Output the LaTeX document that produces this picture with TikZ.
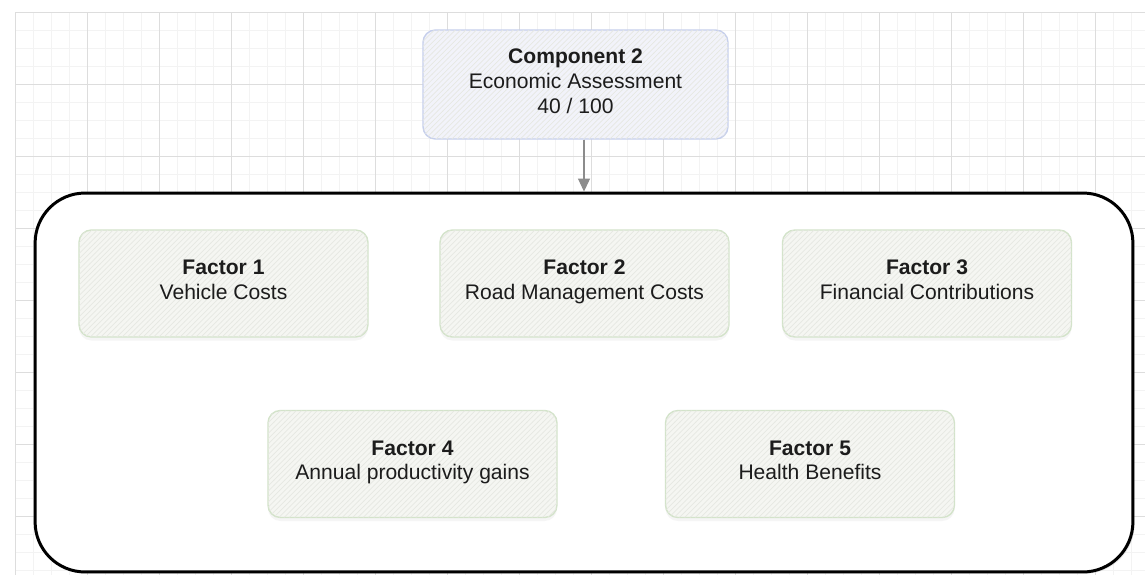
\documentclass[tikz,border=0pt]{standalone}
\usepackage{fontspec}
\setmainfont{Liberation Sans}
\usetikzlibrary{positioning, arrows.meta, shadows, patterns}

\definecolor{gridminor}{HTML}{F3F3F3}
\definecolor{gridmajor}{HTML}{DDDDDD}
\definecolor{compfill}{HTML}{F2F3FA}
\definecolor{compline}{HTML}{C6CFEC}
\definecolor{factfill}{HTML}{F5F6F2}
\definecolor{factline}{HTML}{D3E3CA}
\definecolor{hatch}{HTML}{E6E8E2}
\definecolor{arrowgray}{HTML}{8C8C8C}
\definecolor{textdark}{HTML}{1C1C1C}

\begin{document}
\begin{tikzpicture}[
    x=0.02cm, y=-0.02cm,
    compbox/.style={rectangle, draw=compline, line width=0.8pt, fill=compfill,
                rounded corners=7pt, minimum width=6.1cm, minimum height=2.18cm,
                align=center, text=textdark, font=\fontsize{12}{14.2}\selectfont,
                execute at begin node=\rule{0pt}{12.2pt}, execute at end node=\strut,
                postaction={pattern=north east lines, pattern color=hatch}},
    factorbox/.style={rectangle, draw=factline, line width=0.8pt, fill=factfill,
                rounded corners=7pt, minimum width=5.78cm, minimum height=2.14cm,
                align=center, text=textdark, font=\fontsize{12}{14.2}\selectfont,
                execute at begin node=\rule{0pt}{12.2pt}, execute at end node=\strut,
                drop shadow={opacity=0.08, shadow xshift=0pt, shadow yshift=-2pt},
                postaction={pattern=north east lines, pattern color=hatch}},
    frame/.style={rectangle, draw=black, line width=1.7pt, fill=white,
                rounded corners=1cm, minimum width=21.96cm, minimum height=7.58cm,
                drop shadow={opacity=0.2, shadow xshift=1pt, shadow yshift=-1pt}},
    arrow/.style={-{Triangle[length=2.6mm, width=2.4mm]}, line width=0.6pt, draw=arrowgray, fill=arrowgray}
]

    \fill[white] (0,0) rectangle (1145,575);
    \useasboundingbox (0,0) rectangle (1145,575);

    % Grid paper
    \foreach \gx in {15,33,...,1145}
        \draw[gridminor, line width=0.4pt] (\gx,12) -- (\gx,575);
    \foreach \gy in {12,30,...,575}
        \draw[gridminor, line width=0.4pt] (15,\gy) -- (1145,\gy);
    \foreach \gx in {15,87,...,1145}
        \draw[gridmajor, line width=0.5pt] (\gx,12) -- (\gx,575);
    \foreach \gy in {12,84,...,575}
        \draw[gridmajor, line width=0.5pt] (15,\gy) -- (1145,\gy);

    % Component
    \node[compbox] (comp) at (575.5, 84.5) {%
        \textbf{Component 2}\\
        Economic Assessment\\
        40 / 100%
    };

    % Frame around the factors
    \node[frame] (frame) at (584, 382.5) {};

    % Factors
    \node[factorbox] (fac1) at (223.5, 283.5) {\textbf{Factor 1}\\Vehicle Costs};
    \node[factorbox] (fac2) at (584.5, 283.5) {\textbf{Factor 2}\\Road Management Costs};
    \node[factorbox] (fac3) at (927, 283.5) {\textbf{Factor 3}\\Financial Contributions};
    \node[factorbox] (fac4) at (412.5, 464) {\textbf{Factor 4}\\Annual productivity gains};
    \node[factorbox] (fac5) at (810, 464) {\textbf{Factor 5}\\Health Benefits};

    % Arrow
    \draw[arrow] (comp.south -| frame.north) -- (frame.north);

\end{tikzpicture}
\end{document}
